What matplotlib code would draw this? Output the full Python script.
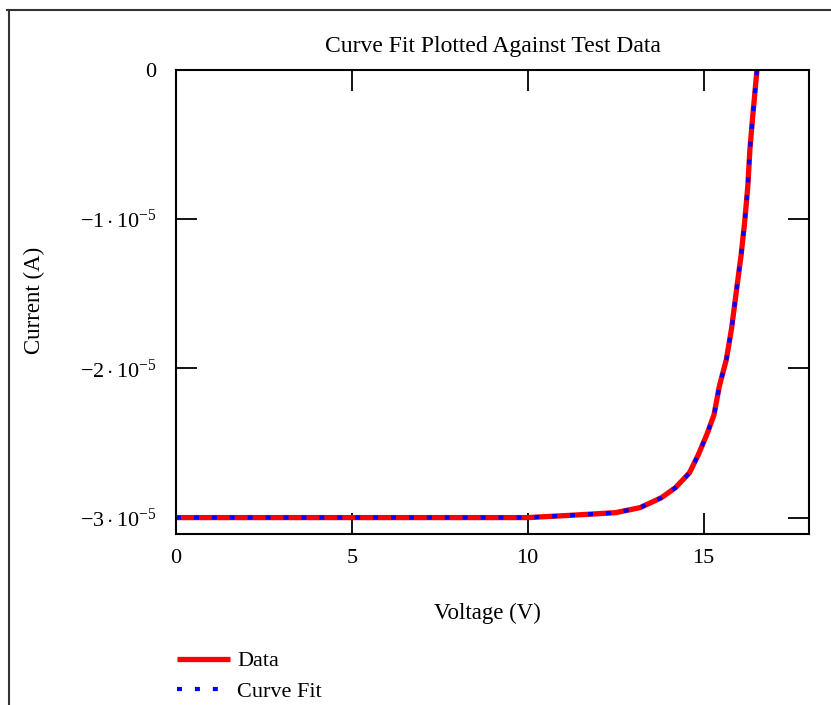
import matplotlib
matplotlib.use('Agg')
import matplotlib.pyplot as plt
from matplotlib.lines import Line2D
from matplotlib.ticker import FixedLocator, FixedFormatter

plt.rcParams['font.family'] = ['Liberation Serif', 'DejaVu Serif']
plt.rcParams['mathtext.fontset'] = 'custom'
plt.rcParams['mathtext.rm'] = 'Liberation Serif'
plt.rcParams['mathtext.it'] = 'Liberation Serif:italic'

# measured diode data (V, A)
voltage = [0, 1, 2, 3, 4, 5, 6, 7, 8, 9, 10, 11.2, 12.5, 13.2, 13.8, 14.2, 14.6,
           14.85, 15.1, 15.3, 15.45, 15.65, 15.8, 15.93, 16.07, 16.17, 16.26,
           16.32, 16.4, 16.52]
current = [-3.0e-5, -3.0e-5, -3.0e-5, -3.0e-5, -3.0e-5, -3.0e-5, -3.0e-5,
           -3.0e-5, -3.0e-5, -3.0e-5, -3.0e-5, -2.985e-5, -2.967e-5, -2.933e-5,
           -2.867e-5, -2.8e-5, -2.7e-5, -2.58e-5, -2.44e-5, -2.31e-5, -2.12e-5,
           -1.94e-5, -1.73e-5, -1.49e-5, -1.24e-5, -1.02e-5, -0.78e-5,
           -0.53e-5, -0.31e-5, 0.0]

# curve fit evaluated at the same voltages
fit_voltage = voltage
fit_current = current

xticks = [0, 5, 10, 15]
yticks = [0, -1e-5, -2e-5, -3e-5]
ytick_labels = ['0', r'$-1\cdot10^{-5}$', r'$-2\cdot10^{-5}$', r'$-3\cdot10^{-5}$']

fig = plt.figure(figsize=(8.31, 7.05), dpi=100)
ax = fig.add_axes([176/831, 1-534/705, (809-176)/831, (534-70)/705])

ax.plot(voltage, current, color='red', linewidth=3.8, solid_capstyle='butt', label='Data')
ax.plot(fit_voltage, fit_current, color='blue', linewidth=3, dashes=(1.2, 3.1), label='Curve Fit')

ax.set_xlim(0, 18)
ax.set_ylim(-3.11e-5, 0)
ax.xaxis.set_major_locator(FixedLocator(xticks))
ax.yaxis.set_major_locator(FixedLocator(yticks))
ax.yaxis.set_major_formatter(FixedFormatter(ytick_labels))
ax.tick_params(direction='in', length=15, width=1.3, top=True, right=True, labelsize=16)
ax.tick_params(axis='x', pad=11)
ax.tick_params(axis='y', pad=14)
for s in ax.spines.values():
    s.set_linewidth(1.5)

ax.set_title('Curve Fit Plotted Against Test Data', fontsize=17, pad=13)
ax.set_xlabel('Voltage (V)', fontsize=16.5)
ax.xaxis.set_label_coords((487-176)/633, -(613-534)/464)
ax.xaxis.label.set_va('center')
ax.set_ylabel('Current (A)', fontsize=16.5)
ax.yaxis.set_label_coords((34-176)/633, (534-300)/464)
ax.yaxis.label.set_va('center')

ax.legend(loc='upper left', bbox_to_anchor=(168/831, 1-642/705), bbox_transform=fig.transFigure,
          frameon=False, fontsize=16, handlelength=2.4, handletextpad=0.3, labelspacing=0.45,
          borderaxespad=0)

# outer frame of the worksheet region
fig.add_artist(Line2D([7/831, 1], [1-10/705, 1-10/705], color='#333333', linewidth=1.5))
fig.add_artist(Line2D([9/831, 9/831], [0, 1-10/705], color='#333333', linewidth=1.5))

fig.savefig('out.png', dpi=100)
